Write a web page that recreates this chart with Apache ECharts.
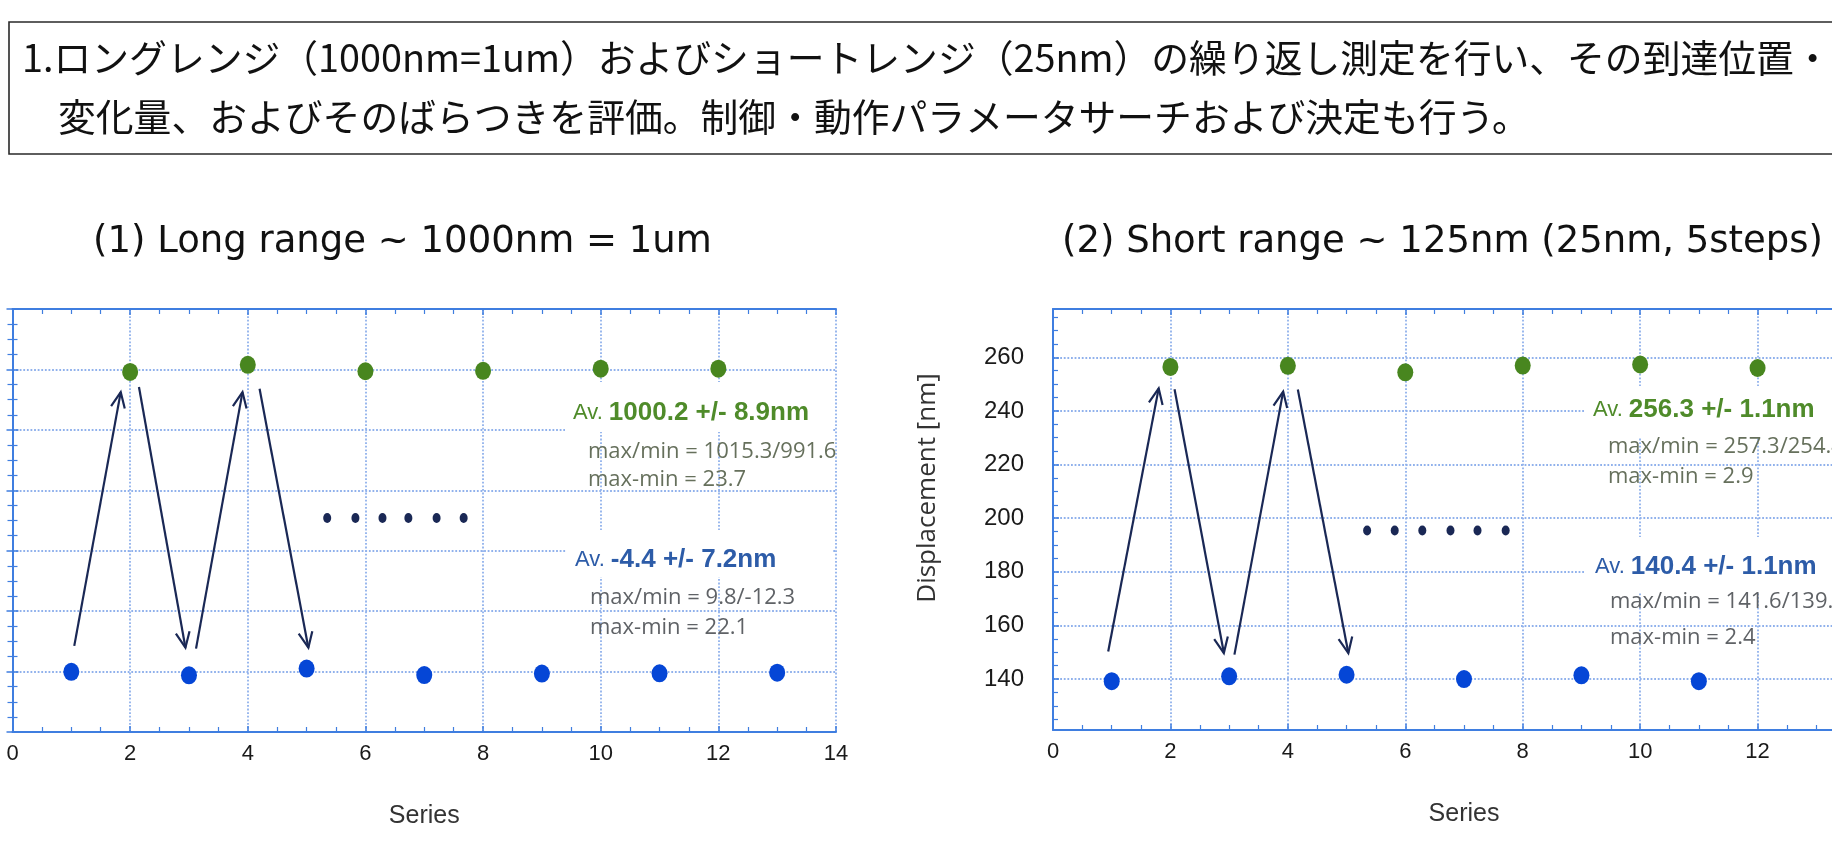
<!DOCTYPE html>
<html>
<head>
<meta charset="utf-8">
<script src="https://cdn.jsdelivr.net/npm/echarts@6/dist/echarts.min.js"></script>
<style>
  html, body { margin: 0; padding: 0; background: #fff; }
  #chart { width: 1832px; height: 846px; }
</style>
</head>
<body>
<div id="chart"></div>
<script>
// ---- Long range (1000 nm): odd steps return to origin, even steps reach 1000 nm ----
const longLowSteps = [1, 3, 5, 7, 9, 11, 13];
const longLow = [-1.0, -12.3, 9.8, -11.5, -6.5, -5.8, -3.5];
const longHighSteps = [2, 4, 6, 8, 10, 12];
const longHigh = [991.6, 1015.3, 994.0, 995.5, 1002.5, 1002.3];

// ---- Short range (125 nm in 25 nm steps) ----
const shortLowSteps = [1, 3, 5, 7, 9, 11];
const shortLow = [139.2, 141.0, 141.6, 140.0, 141.4, 139.2];
const shortHighSteps = [2, 4, 6, 8, 10, 12];
const shortHigh = [256.4, 256.8, 254.4, 256.9, 257.3, 256.0];

// Motion arrows: [fromStep, fromValue, toStep, toValue]
const longArrows = [
  [1.05, 85, 1.84, 925],
  [2.15, 942, 2.94, 79],
  [3.12, 76, 3.91, 925],
  [4.20, 936, 5.03, 79]
];
const shortArrows = [
  [0.94, 150.3, 1.80, 248.4],
  [2.07, 248.1, 2.91, 149.7],
  [3.09, 149.1, 3.92, 247.2],
  [4.17, 248.0, 5.03, 149.7]
];

// "..." continuation marks
const longEllipsisX = [5.35, 5.83, 6.29, 6.73, 7.21, 7.67];
const longEllipsisY = [508, 508, 508, 508, 508, 508];
const shortEllipsisX = [5.35, 5.82, 6.29, 6.77, 7.23, 7.71];
const shortEllipsisY = [195.4, 195.4, 195.4, 195.4, 195.4, 195.4];

// Axis ranges and tick values
const xRange = [0, 14];
const xStep = 2;
const longYRange = [-200, 1200];
const longYStep = 200;
const shortYRange = [121, 278];
const shortYTicks = [140, 160, 180, 200, 220, 240, 260];
const shortYMinorTicks = [125, 130, 135, 145, 150, 155, 165, 170, 175, 185, 190, 195,
  205, 210, 215, 225, 230, 235, 245, 250, 255, 265, 270, 275];

// Text
const headerLines = [
  '1.ロングレンジ（1000nm=1um）およびショートレンジ（25nm）の繰り返し測定を行い、その到達位置・',
  '変化量、およびそのばらつきを評価。制御・動作パラメータサーチおよび決定も行う。'
];
const titleLong = '(1) Long range ~ 1000nm = 1um';
const titleShort = '(2) Short range ~ 125nm (25nm, 5steps)';
const yName = 'Displacement [nm]';
const statsLong = {
  high: ['1000.2 +/- 8.9nm', 'max/min = 1015.3/991.6', 'max-min = 23.7'],
  low: ['-4.4 +/- 7.2nm', 'max/min = 9.8/-12.3', 'max-min = 22.1']
};
const statsShort = {
  high: ['256.3 +/- 1.1nm', 'max/min = 257.3/254.4', 'max-min = 2.9'],
  low: ['140.4 +/- 1.1nm', 'max/min = 141.6/139.2', 'max-min = 2.4']
};

// ---- styling ----
const AXIS_BLUE = '#3f7ee0';
const GRID_BLUE = '#90b1ec';
const GREEN = '#48861f';
const BLUE = '#0546d6';
const NAVY = '#1a2855';
const TXT_GREEN = '#4f8b2a';
const TXT_BLUE = '#2d5ca8';
const NARROW = '"Liberation Sans Narrow", "Arial Narrow", "Liberation Sans", sans-serif';

const zip = (xs, ys) => xs.map((x, i) => [x, ys[i]]);

function xAxisCfg(gridIndex, position, main) {
  return {
    type: 'value', gridIndex, position, min: xRange[0], max: xRange[1], interval: xStep,
    axisLine: { show: true, onZero: false, lineStyle: { color: AXIS_BLUE, width: 2 } },
    axisTick: { show: true, inside: true, length: 6, lineStyle: { color: AXIS_BLUE, width: 1.5 } },
    minorTick: { show: true, splitNumber: 4, length: 5, lineStyle: { color: AXIS_BLUE, width: 1.2 } },
    axisLabel: { show: main, margin: 11, fontFamily: NARROW, fontSize: 22, color: '#1a1a1a' },
    splitLine: { show: main, lineStyle: { color: GRID_BLUE, width: 1.8, type: 'dotted' } },
    name: main ? 'Series' : '',
    nameLocation: 'middle', nameGap: 72,
    nameTextStyle: { fontFamily: NARROW, fontSize: 25, color: '#333' }
  };
}

function renderArrow(params, api) {
  const a = api.coord([api.value(0), api.value(1)]);
  const b = api.coord([api.value(2), api.value(3)]);
  const dx = b[0] - a[0], dy = b[1] - a[1];
  const len = Math.hypot(dx, dy);
  const ux = dx / len, uy = dy / len;
  const L = 17, s = Math.sin(0.42), c = Math.cos(0.42);
  const h1 = [b[0] - L * (ux * c - uy * s), b[1] - L * (uy * c + ux * s)];
  const h2 = [b[0] - L * (ux * c + uy * s), b[1] - L * (uy * c - ux * s)];
  return {
    type: 'group',
    children: [
      { type: 'line', shape: { x1: a[0], y1: a[1], x2: b[0], y2: b[1] },
        style: { stroke: NAVY, lineWidth: 2.2 } },
      { type: 'polyline', shape: { points: [h1, b, h2] },
        style: { stroke: NAVY, lineWidth: 2.2, fill: null } }
    ]
  };
}

function statBlock(x, yHead, yLines, lines, color, detailColor, box) {
  return [
    { type: 'rect', z: 50, shape: box, style: { fill: '#fff' } },
    { type: 'text', z: 51, x: x, y: yHead,
      style: {
        text: '{a|Av. }{b|' + lines[0] + '}',
        verticalAlign: 'middle',
        rich: {
          a: { fontFamily: NARROW, fontSize: 22, fill: color },
          b: { fontFamily: '"Liberation Sans", Arial, sans-serif', fontWeight: 'bold', fontSize: 26, fill: color }
        }
      } },
    { type: 'text', z: 51, x: x + 15, y: yLines[0],
      style: { text: lines[1], verticalAlign: 'middle', font: '22px "Open Sans", sans-serif', fill: detailColor } },
    { type: 'text', z: 51, x: x + 15, y: yLines[1],
      style: { text: lines[2], verticalAlign: 'middle', font: '22px "Open Sans", sans-serif', fill: detailColor } }
  ];
}

function scatterSeries(xi, yi, data, color, size) {
  return { type: 'scatter', xAxisIndex: xi, yAxisIndex: yi, data, symbol: 'circle',
           symbolSize: size, itemStyle: { color, opacity: 1 }, z: 5 };
}

const chart = echarts.init(document.getElementById('chart'), null, { renderer: 'canvas' });

const option = {
  animation: false,
  backgroundColor: '#fff',
  grid: [
    { left: 12.5, top: 309, width: 823.5, height: 423, outerBoundsMode: 'none', containLabel: false },
    { left: 1053, top: 309, width: 822, height: 421, outerBoundsMode: 'none', containLabel: false }
  ],
  xAxis: [
    xAxisCfg(0, 'bottom', true),
    xAxisCfg(0, 'top', false),
    xAxisCfg(1, 'bottom', true),
    xAxisCfg(1, 'top', false)
  ],
  yAxis: [
    {
      type: 'value', gridIndex: 0, position: 'left',
      min: longYRange[0], max: longYRange[1], interval: longYStep,
      axisLine: { show: true, lineStyle: { color: AXIS_BLUE, width: 2 } },
      axisTick: { show: true, inside: true, length: 6, lineStyle: { color: AXIS_BLUE, width: 1.5 } },
      minorTick: { show: true, splitNumber: 4, length: 5, lineStyle: { color: AXIS_BLUE, width: 1.2 } },
      axisLabel: { show: false },
      splitLine: { show: true, lineStyle: { color: GRID_BLUE, width: 1.8, type: 'dotted' } }
    },
    {
      type: 'value', gridIndex: 0, position: 'right',
      min: longYRange[0], max: longYRange[1], interval: longYStep,
      axisLine: { show: true, lineStyle: { color: AXIS_BLUE, width: 2 } },
      axisTick: { show: true, inside: true, length: 6, lineStyle: { color: AXIS_BLUE, width: 1.5 } },
      minorTick: { show: true, splitNumber: 4, length: 5, lineStyle: { color: AXIS_BLUE, width: 1.2 } },
      axisLabel: { show: false },
      splitLine: { show: false }
    },
    {
      type: 'value', gridIndex: 1, position: 'left',
      min: shortYRange[0], max: shortYRange[1],
      axisLine: { show: true, lineStyle: { color: AXIS_BLUE, width: 2 } },
      axisTick: { show: true, inside: true, length: 6, customValues: shortYTicks,
                  lineStyle: { color: AXIS_BLUE, width: 1.5 } },
      axisLabel: { show: true, customValues: shortYTicks, margin: 29,
                   fontFamily: NARROW, fontSize: 24, color: '#1a1a1a' },
      splitLine: { show: true, lineStyle: { color: GRID_BLUE, width: 1.8, type: 'dotted' } }
    },
    {
      type: 'value', gridIndex: 1, position: 'left',
      min: shortYRange[0], max: shortYRange[1],
      axisLine: { show: false },
      axisTick: { show: true, inside: true, length: 5, customValues: shortYMinorTicks,
                  lineStyle: { color: AXIS_BLUE, width: 1.2 } },
      axisLabel: { show: false },
      splitLine: { show: false }
    }
  ],
  series: [
    scatterSeries(0, 0, zip(longHighSteps, longHigh), GREEN, [16, 18]),
    scatterSeries(0, 0, zip(longLowSteps, longLow), BLUE, [16, 18]),
    scatterSeries(0, 0, zip(longEllipsisX, longEllipsisY), NAVY, [8, 10]),
    { type: 'custom', xAxisIndex: 0, yAxisIndex: 0, data: longArrows,
      encode: { x: [0, 2], y: [1, 3] }, renderItem: renderArrow, clip: false, silent: true, z: 6 },

    scatterSeries(2, 2, zip(shortHighSteps, shortHigh), GREEN, [16, 18]),
    scatterSeries(2, 2, zip(shortLowSteps, shortLow), BLUE, [16, 18]),
    scatterSeries(2, 2, zip(shortEllipsisX, shortEllipsisY), NAVY, [8, 10]),
    { type: 'custom', xAxisIndex: 2, yAxisIndex: 2, data: shortArrows,
      encode: { x: [0, 2], y: [1, 3] }, renderItem: renderArrow, clip: false, silent: true, z: 6 }
  ],
  graphic: [
    // header box
    { type: 'rect', z: 50, shape: { x: 9, y: 22, width: 1850, height: 132 },
      style: { fill: null, stroke: '#2a2a2a', lineWidth: 1.6 } },
    { type: 'text', z: 51, x: 22, y: 58,
      style: { text: headerLines[0], verticalAlign: 'middle',
               font: '37.8px "Noto Sans CJK JP", sans-serif', fill: '#111' } },
    { type: 'text', z: 51, x: 58, y: 117,
      style: { text: headerLines[1], verticalAlign: 'middle',
               font: '37.8px "Noto Sans CJK JP", sans-serif', fill: '#111' } },
    // panel titles
    { type: 'text', z: 51, x: 93, y: 242,
      style: { text: titleLong, verticalAlign: 'middle', font: '37px "DejaVu Sans", sans-serif', fill: '#111' } },
    { type: 'text', z: 51, x: 1062, y: 242,
      style: { text: titleShort, verticalAlign: 'middle', font: '37px "DejaVu Sans", sans-serif', fill: '#111' } },
    // vertical axis title of the short-range panel
    { type: 'text', z: 51, x: 928, y: 488, rotation: Math.PI / 2,
      style: { text: yName, align: 'center', verticalAlign: 'middle',
               font: '26px "Open Sans", sans-serif', fill: '#333' } },
    // statistics
    ...statBlock(573, 413, [452, 480], statsLong.high, TXT_GREEN, '#66705c',
                 { x: 565, y: 382, width: 268, height: 50 }),
    ...statBlock(575, 560, [598, 628], statsLong.low, TXT_BLUE, '#5f6266',
                 { x: 566, y: 530, width: 267, height: 47 }),
    ...statBlock(1593, 410, [447, 477], statsShort.high, TXT_GREEN, '#66705c',
                 { x: 1584, y: 386, width: 260, height: 51 }),
    ...statBlock(1595, 567, [602, 638], statsShort.low, TXT_BLUE, '#5f6266',
                 { x: 1585, y: 537, width: 260, height: 56 })
  ]
};

chart.setOption(option);
</script>
</body>
</html>
